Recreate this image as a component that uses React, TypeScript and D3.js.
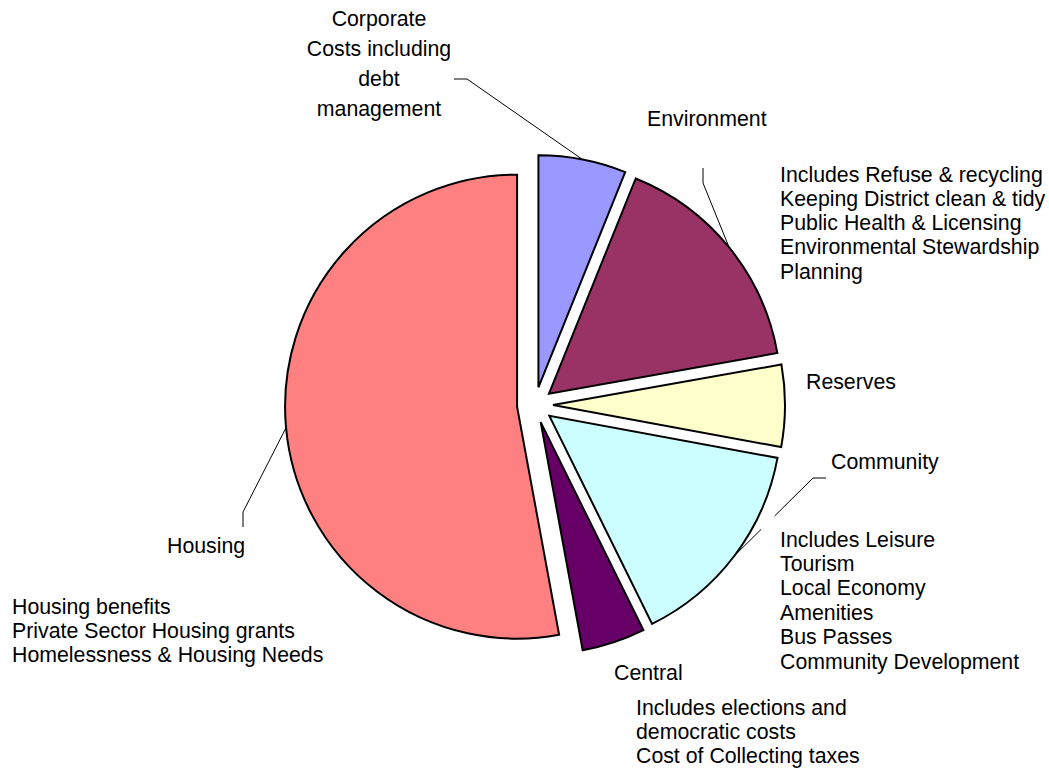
import React from "react";
import * as d3 from "d3";

const categories = ["Corporate", "Environment", "Reserves", "Community", "Central", "Housing"];
const values = [6.1, 16.1, 5.7, 14.8, 4.4, 52.9];
const colors = ["#9999FF", "#993366", "#FFFFCC", "#CCFFFF", "#660066", "#FF8080"];

const corporateLabel = ["Corporate", "Costs including", "debt", "management"];
const environmentBody = [
  "Includes Refuse & recycling",
  "Keeping District clean & tidy",
  "Public Health & Licensing",
  "Environmental Stewardship",
  "Planning",
];
const communityBody = [
  "Includes Leisure",
  "Tourism",
  "Local Economy",
  "Amenities",
  "Bus Passes",
  "Community Development",
];
const centralBody = ["Includes elections and", "democratic costs", "Cost of Collecting taxes"];
const housingBody = ["Housing benefits", "Private Sector Housing grants", "Homelessness & Housing Needs"];

const W = 1049;
const H = 769;
const CX = 535;
const CY = 405;
const R = 232;
const EXPLODE = 18;
const FONT = "'Liberation Sans', Arial, sans-serif";
const FS = 21.3;

export default function App() {
  const pie = d3.pie<number>().sort(null).value((d) => d);
  const arcs = pie(values);
  const arcGen = d3.arc<d3.PieArcDatum<number>>().innerRadius(0).outerRadius(R);

  const offset = (a: d3.PieArcDatum<number>) => {
    const mid = (a.startAngle + a.endAngle) / 2;
    return [Math.sin(mid) * EXPLODE, -Math.cos(mid) * EXPLODE];
  };
  const arcMid = (i: number, r = R) => {
    const a = arcs[i];
    const mid = (a.startAngle + a.endAngle) / 2;
    const [ox, oy] = offset(a);
    return [CX + ox + Math.sin(mid) * r, CY + oy - Math.cos(mid) * r];
  };

  const txt = (x: number, yc: number, s: string, anchor = "start", key?: any) => (
    <text key={key ?? s + yc} x={x} y={yc + 7.5} fontSize={FS} fontFamily={FONT} textAnchor={anchor} fill="#000">
      {s}
    </text>
  );

  const line = (pts: number[][], extra: any = {}) => (
    <polyline
      points={pts.map((p) => p.join(",")).join(" ")}
      fill="none"
      stroke="#000"
      strokeWidth={1}
      {...extra}
    />
  );

  const corpEnd = arcMid(0);
  const envEnd = arcMid(1);
  const comEnd = arcMid(3);
  const houEnd = arcMid(5);
  const comLen = Math.hypot(813 - comEnd[0], 478 - comEnd[1]);

  return (
    <svg width={W} height={H} style={{ position: "absolute", left: 0, top: 0, background: "#fff" }}>
      <rect x={0} y={0} width={W} height={H} fill="#fff" />
      <g>
        {arcs.map((a, i) => {
          const [ox, oy] = offset(a);
          return (
            <path
              key={categories[i]}
              d={arcGen(a) || ""}
              transform={`translate(${CX + ox},${CY + oy})`}
              fill={colors[i]}
              stroke="#000"
              strokeWidth={2}
              strokeLinejoin="miter"
            />
          );
        })}
      </g>
      {line([[454, 79], [467, 79], corpEnd])}
      {line([[703, 168], [703, 183], envEnd])}
      {line([[826, 478], [813, 478]])}
      {line([[813, 478], comEnd], { strokeDasharray: `54 19 ${comLen}` })}
      {line([[243, 527], [243, 512], houEnd])}

      {corporateLabel.map((s, i) => txt(379, 18 + i * 30, s, "middle", "c" + i))}
      {txt(647, 118, "Environment")}
      {environmentBody.map((s, i) => txt(780, 174 + i * 24.3, s, "start", "e" + i))}
      {txt(806, 381, "Reserves")}
      {txt(831, 461, "Community")}
      {communityBody.map((s, i) => txt(780, 539 + i * 24.4, s, "start", "m" + i))}
      {txt(614, 672, "Central")}
      {centralBody.map((s, i) => txt(636, 707 + i * 24.4, s, "start", "t" + i))}
      {txt(167, 545, "Housing")}
      {housingBody.map((s, i) => txt(12, 606 + i * 24.3, s, "start", "h" + i))}
    </svg>
  );
}
